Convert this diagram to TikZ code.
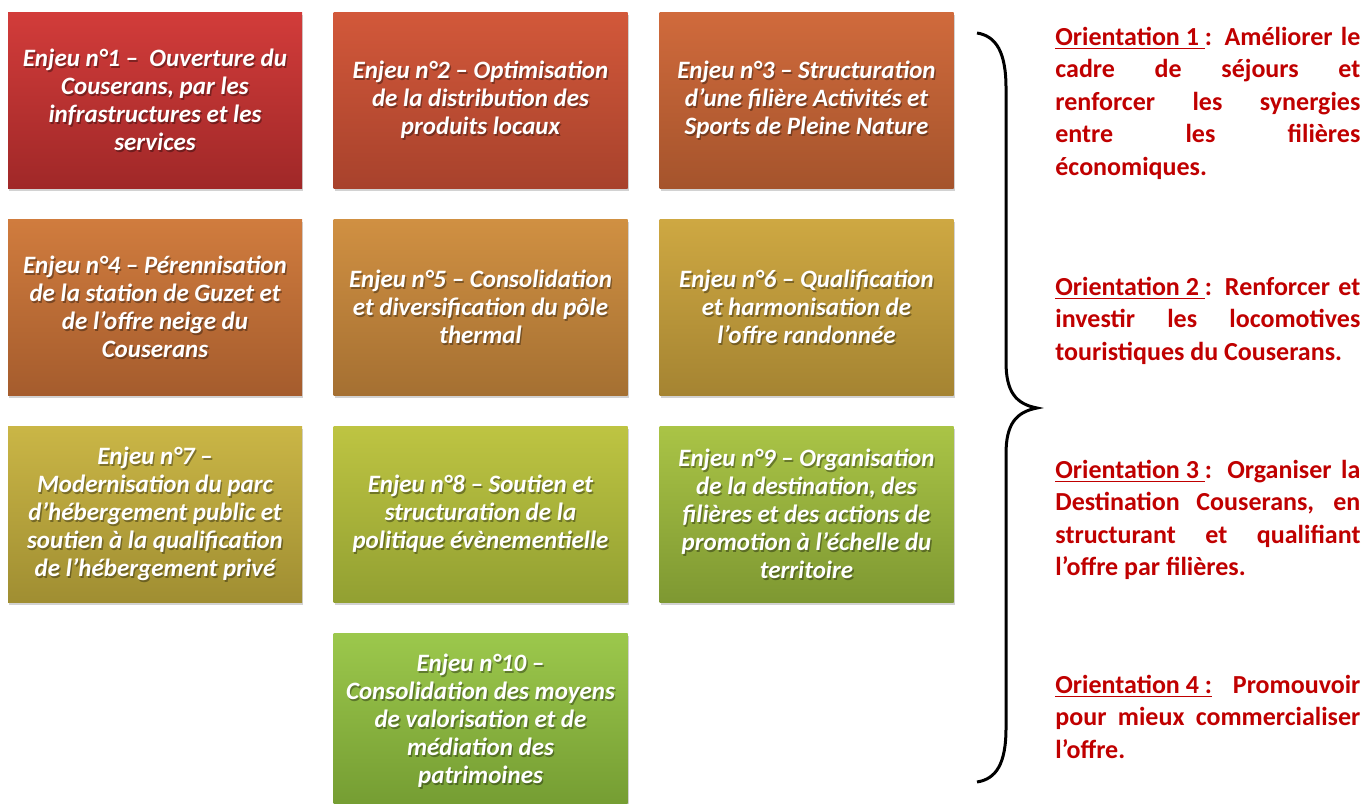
\documentclass[tikz,border=0pt]{standalone}
\usepackage{fontspec}
\setmainfont{Carlito}
\usetikzlibrary{shadows}
\definecolor{ored}{RGB}{192,0,0}
\definecolor{t1}{RGB}{210,60,58}   \definecolor{b1}{RGB}{160,40,40}
\definecolor{t2}{RGB}{210,88,58}   \definecolor{b2}{RGB}{168,66,44}
\definecolor{t3}{RGB}{208,106,60}  \definecolor{b3}{RGB}{165,84,44}
\definecolor{t4}{RGB}{208,124,62}  \definecolor{b4}{RGB}{165,92,45}
\definecolor{t5}{RGB}{208,144,66}  \definecolor{b5}{RGB}{165,112,50}
\definecolor{t6}{RGB}{206,168,66}  \definecolor{b6}{RGB}{165,132,50}
\definecolor{t7}{RGB}{202,182,70}  \definecolor{b7}{RGB}{160,142,50}
\definecolor{t8}{RGB}{190,196,66}  \definecolor{b8}{RGB}{146,160,50}
\definecolor{t9}{RGB}{170,196,70}  \definecolor{b9}{RGB}{126,152,50}
\definecolor{t10}{RGB}{156,200,76} \definecolor{b10}{RGB}{116,156,50}
\newcommand\enjeu[6]{%
  \node[enjeubox, top color=#4, bottom color=#5] (#1) at (#2,#3) {};
  \node[enjeutxt, text=black, opacity=0.35] (#1s) at ([shift={(1.4,1.4)}]#1.center) {#6};
  \node[enjeutxt, text=white] (#1t) at (#1.center) {#6};}
\begin{document}
\begin{tikzpicture}[x=0.5pt,y=-0.5pt,
  enjeubox/.style={minimum width=147pt, minimum height=88pt, inner sep=0pt,
    drop shadow={shadow xshift=0.6pt, shadow yshift=-1.5pt, opacity=0.35}},
  enjeutxt/.style={align=center, inner sep=0pt,
    font=\fontsize{12.5}{14}\selectfont\bfseries\itshape},
  orient/.style={anchor=base west, text width=152.5pt, align=justify, inner sep=0pt,
    text=ored, font=\fontsize{13}{16.25}\selectfont\bfseries},
  bracestyle/.style={line width=1.5pt, black}]
\useasboundingbox (0,0) rectangle (1363,803);
\fill[white] (0,0) rectangle (1363,803);

\enjeu{e1}{155}{100}{t1}{b1}{Enjeu n°1 –\ \ Ouverture du\\Couserans, par les\\infrastructures et les\\services}
\enjeu{e2}{480.5}{100}{t2}{b2}{Enjeu n°2 – Optimisation\\de la distribution des\\produits locaux}
\enjeu{e3}{806.5}{100}{t3}{b3}{Enjeu n°3 – Structuration\\d’une filière Activités et\\Sports de Pleine Nature}
\enjeu{e4}{155}{307}{t4}{b4}{Enjeu n°4 – Pérennisation\\de la station de Guzet et\\de l’offre neige du\\Couserans}
\enjeu{e5}{480.5}{307}{t5}{b5}{Enjeu n°5 – Consolidation\\et diversification du pôle\\thermal}
\enjeu{e6}{806.5}{307}{t6}{b6}{Enjeu n°6 – Qualification\\et harmonisation de\\l’offre randonnée}
\enjeu{e7}{155}{514}{t7}{b7}{Enjeu n°7 –\\Modernisation du parc\\d’hébergement public et\\soutien à la qualification\\de l’hébergement privé}
\enjeu{e8}{480.5}{514}{t8}{b8}{Enjeu n°8 – Soutien et\\structuration de la\\politique évènementielle}
\enjeu{e9}{806.5}{514}{t9}{b9}{Enjeu n°9 – Organisation\\de la destination, des\\filières et des actions de\\promotion à l’échelle du\\territoire}
\enjeu{e10}{480.5}{721}{t10}{b10}{Enjeu n°10 –\\Consolidation des moyens\\de valorisation et de\\médiation des\\patrimoines}

% brace
\coordinate (bt) at (977,33);
\coordinate (bm) at (1037,408);
\coordinate (bb) at (977,782);
\draw[bracestyle] (bt) .. controls (996,36) and (1006,52) .. (1006,88)
  -- (1006,362) .. controls (1006,392) and (1016,404) .. (bm)
  .. controls (1016,412) and (1006,424) .. (1006,454)
  -- (1006,728) .. controls (1006,764) and (996,779) .. (bb);

\node[orient] (o1) at (1055,45) {\underline{Orientation 1 }: Améliorer le\linebreak cadre de séjours et\linebreak renforcer les synergies\linebreak entre les filières\linebreak économiques.};
\node[orient] (o2) at (1055,295) {\underline{Orientation 2 }: Renforcer et\linebreak investir les locomotives\linebreak touristiques du Couserans.};
\node[orient] (o3) at (1055,478) {\underline{Orientation 3 }: Organiser la\linebreak Destination Couserans, en\linebreak structurant et qualifiant\linebreak l’offre par filières.};
\node[orient] (o4) at (1055,693) {\underline{Orientation 4 :} Promouvoir\linebreak pour mieux commercialiser\linebreak l’offre.};
\end{tikzpicture}
\end{document}
